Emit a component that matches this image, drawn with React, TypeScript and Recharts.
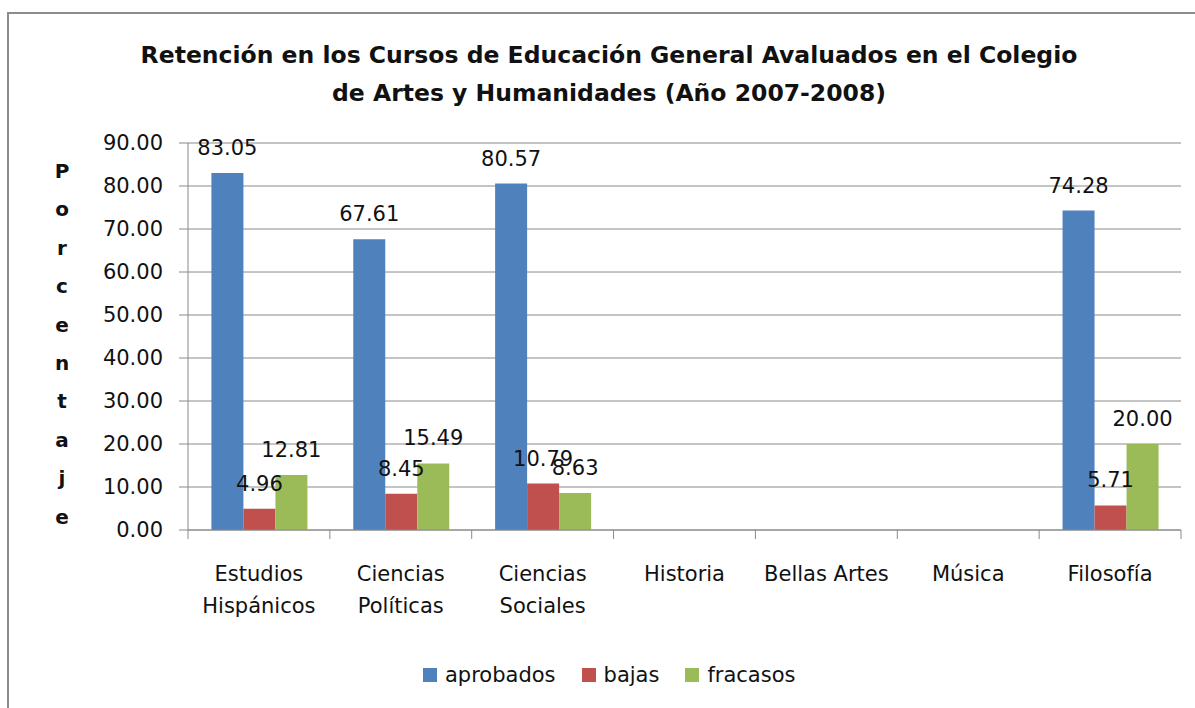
import React from 'react';
import { BarChart, Bar, XAxis, YAxis, CartesianGrid, LabelList, Legend } from 'recharts';

const categories = ['Estudios Hispánicos', 'Ciencias Políticas', 'Ciencias Sociales', 'Historia', 'Bellas Artes', 'Música', 'Filosofía'];
const categoryLines = [['Estudios', 'Hispánicos'], ['Ciencias', 'Políticas'], ['Ciencias', 'Sociales'], ['Historia'], ['Bellas Artes'], ['Música'], ['Filosofía']];
const aprobados = [83.05, 67.61, 80.57, null, null, null, 74.28];
const bajas = [4.96, 8.45, 10.79, null, null, null, 5.71];
const fracasos = [12.81, 15.49, 8.63, null, null, null, 20.0];
const yTicks = [0, 10, 20, 30, 40, 50, 60, 70, 80, 90];
const titleLines = ['Retención en los Cursos de Educación General Avaluados en el Colegio', 'de Artes y Humanidades (Año 2007-2008)'];
const yAxisTitle = 'Porcentaje';
const seriesKeys = ['aprobados', 'bajas', 'fracasos'];
const seriesColors = ['#4F81BD', '#C0504D', '#9BBB59'];

const data = categories.map((c, i) => ({
  name: c,
  aprobados: aprobados[i],
  bajas: bajas[i],
  fracasos: fracasos[i],
}));

const W = 1195;
const H = 708;
const MARGIN = { top: 143, right: 14, left: 0, bottom: 13 };
const Y_AXIS_W = 188;
const X_AXIS_H = 125;
const LEGEND_H = 40;
const FONT = '"DejaVu Sans", sans-serif';
const GRID = '#8a8a8a';
const BAND = (W - MARGIN.left - MARGIN.right - Y_AXIS_W) / categories.length;

const fmt = (v: any) => (v === null || v === undefined ? '' : Number(v).toFixed(2));

function XTick(props: any) {
  const { x, y, index } = props;
  const lines = categoryLines[index] || [];
  return (
    <g>
      {index === 0 && <line x1={x - BAND / 2} x2={x - BAND / 2} y1={y} y2={y + 9} stroke={GRID} />}
      <line x1={x + BAND / 2} x2={x + BAND / 2} y1={y} y2={y + 9} stroke={GRID} />
      <text textAnchor="middle" fontFamily={FONT} fontSize={21} fill="#111">
        {lines.map((l, i) => (
          <tspan key={i} x={x} y={y + 51 + i * 32}>{l}</tspan>
        ))}
      </text>
    </g>
  );
}

function VerticalTitle() {
  const letters = yAxisTitle.split('');
  return (
    <text textAnchor="middle" fontFamily={FONT} fontWeight="bold" fontSize={20} fill="#111">
      {letters.map((ch, i) => (
        <tspan key={i} x={62} y={178 + i * 38.4}>{ch}</tspan>
      ))}
    </text>
  );
}

function LegendContent() {
  return (
    <div style={{ height: LEGEND_H, display: 'flex', alignItems: 'center', paddingLeft: 423, fontFamily: FONT, fontSize: 21, color: '#111' }}>
      {seriesKeys.map((k, i) => (
        <div key={k} style={{ display: 'flex', alignItems: 'center', marginRight: 26 }}>
          <div style={{ width: 14, height: 14, background: seriesColors[i], marginRight: 8 }} />
          <span>{k}</span>
        </div>
      ))}
    </div>
  );
}

export default function App() {
  return (
    <div style={{ position: 'absolute', left: 0, top: 0, width: W, height: H, overflow: 'hidden', background: '#fff' }}>
      <div style={{ position: 'absolute', left: 7, top: 12, width: W + 50, height: H + 50, borderLeft: '2px solid #8c8c8c', borderTop: '2px solid #8c8c8c' }} />
      <div style={{ position: 'absolute', left: 0, top: 36, width: 1218, textAlign: 'center', fontFamily: FONT, fontWeight: 'bold', fontSize: 23.5, lineHeight: '38px', color: '#111' }}>
        {titleLines.map((t, i) => (
          <div key={i}>{t}</div>
        ))}
      </div>
      <div style={{ position: 'absolute', left: 0, top: 0 }}>
        <BarChart width={W} height={H} data={data} margin={MARGIN} barCategoryGap="16.5%" barGap={0}>
          <CartesianGrid vertical={false} stroke={GRID} strokeDasharray="" />
          <XAxis dataKey="name" height={X_AXIS_H} stroke={GRID} tickLine={false} tickSize={0} tickMargin={0} interval={0} tick={<XTick />} />
          <YAxis
            width={Y_AXIS_W}
            domain={[0, 90]}
            ticks={yTicks}
            interval={0}
            tickFormatter={(v: number) => v.toFixed(2)}
            stroke={GRID}
            tickSize={9}
            tickMargin={16}
            tick={{ fill: '#111', fontSize: 21, fontFamily: FONT }}
            label={(p: any) => <VerticalTitle />}
          />
          <Legend verticalAlign="bottom" height={LEGEND_H} content={() => <LegendContent />} wrapperStyle={{ left: 0, width: W }} />
          {seriesKeys.map((k, i) => (
            <Bar key={k} dataKey={k} fill={seriesColors[i]} isAnimationActive={false}>
              <LabelList dataKey={k} position="top" offset={18} formatter={fmt} style={{ fontSize: 21, fontFamily: FONT, fill: '#111' }} />
            </Bar>
          ))}
        </BarChart>
      </div>
    </div>
  );
}
